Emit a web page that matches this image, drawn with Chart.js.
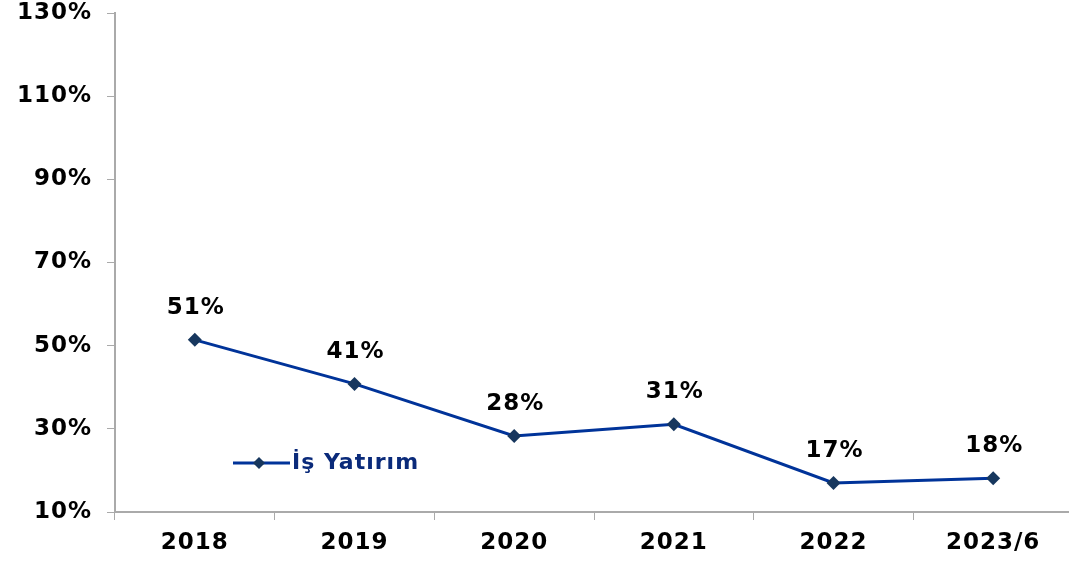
<!DOCTYPE html>
<html>
<head>
<meta charset="utf-8">
<script src="https://cdn.jsdelivr.net/npm/chart.js@4/dist/chart.umd.min.js"></script>
<style>
  html, body { margin: 0; padding: 0; background: #fff; overflow: hidden; }
  #wrap { width: 1080px; height: 561px; }
</style>
</head>
<body>
<div id="wrap"><canvas id="myChart"></canvas></div>
<script>
// chart data
const years = ['2018', '2019', '2020', '2021', '2022', '2023/6'];
const ratios = [51.4, 40.8, 28.3, 31.1, 17.0, 18.1];
const yTicks = [10, 30, 50, 70, 90, 110, 130];
const seriesName = 'İş Yatırım';

const FONT = 'DejaVu Sans, Verdana, sans-serif';
const lineColor = '#003399';
const markColor = '#17375E';

// a bit wider text, closer to the Verdana look of the original
const spacing = {
    id: 'spacing',
    beforeDraw(chart) { chart.ctx.letterSpacing = '1px'; }
};

// value labels above the points
const valueLabels = {
    id: 'valueLabels',
    afterDatasetsDraw(chart) {
        const ctx = chart.ctx;
        const meta = chart.getDatasetMeta(0);
        ctx.save();
        ctx.font = 'bold 23px ' + FONT;
        ctx.fillStyle = '#000';
        ctx.textAlign = 'center';
        ctx.textBaseline = 'middle';
        meta.data.forEach((pt, i) => {
            ctx.fillText(Math.round(ratios[i]) + '%', pt.x + 1, pt.y - 32);
        });
        ctx.restore();
    }
};

// legend inside the plot
const innerLegend = {
    id: 'innerLegend',
    afterDraw(chart) {
        const ctx = chart.ctx;
        const y = 463;
        ctx.save();
        ctx.strokeStyle = lineColor;
        ctx.lineWidth = 3;
        ctx.beginPath();
        ctx.moveTo(233, y);
        ctx.lineTo(290, y);
        ctx.stroke();
        ctx.fillStyle = markColor;
        ctx.beginPath();
        ctx.moveTo(259, y - 6);
        ctx.lineTo(265, y);
        ctx.lineTo(259, y + 6);
        ctx.lineTo(253, y);
        ctx.closePath();
        ctx.fill();
        ctx.font = 'bold 22px ' + FONT;
        ctx.fillStyle = '#0A2A7A';
        ctx.textBaseline = 'middle';
        ctx.fillText(seriesName, 292, y);
        ctx.restore();
    }
};

const ctx = document.getElementById('myChart').getContext('2d');
new Chart(ctx, {
    type: 'line',
    data: {
        labels: years,
        datasets: [{
            label: seriesName,
            data: ratios,
            borderColor: lineColor,
            borderWidth: 3,
            pointStyle: 'rectRot',
            pointRadius: 7,
            pointBackgroundColor: markColor,
            pointBorderColor: markColor,
            pointBorderWidth: 0,
            tension: 0,
            fill: false
        }]
    },
    options: {
        responsive: true,
        maintainAspectRatio: false,
        animation: false,
        layout: { padding: { top: 13, right: 5, left: 0, bottom: 0 } },
        scales: {
            x: {
                offset: true,
                grid: {
                    offset: true,
                    drawOnChartArea: false,
                    color: '#aaa',
                    tickLength: 8
                },
                border: { color: '#aaa', width: 2 },
                ticks: {
                    color: '#000',
                    font: { family: FONT, size: 23, weight: 'bold' },
                    padding: 9
                },
                afterFit(scale) { scale.height = 49; }
            },
            y: {
                min: 10,
                max: 130,
                afterBuildTicks(scale) {
                    scale.ticks = yTicks.map(v => ({ value: v }));
                },
                grid: {
                    drawOnChartArea: false,
                    color: '#aaa',
                    tickLength: 8
                },
                border: { color: '#aaa', width: 2 },
                ticks: {
                    color: '#000',
                    font: { family: FONT, size: 23, weight: 'bold' },
                    padding: 15,
                    callback: v => v + '%'
                },
                afterFit(scale) {
                    scale.width = 115;
                    scale.paddingTop = 0;
                    scale.paddingBottom = 0;
                }
            }
        },
        plugins: {
            legend: { display: false },
            tooltip: { enabled: false }
        }
    },
    plugins: [spacing, valueLabels, innerLegend]
});
</script>
</body>
</html>
